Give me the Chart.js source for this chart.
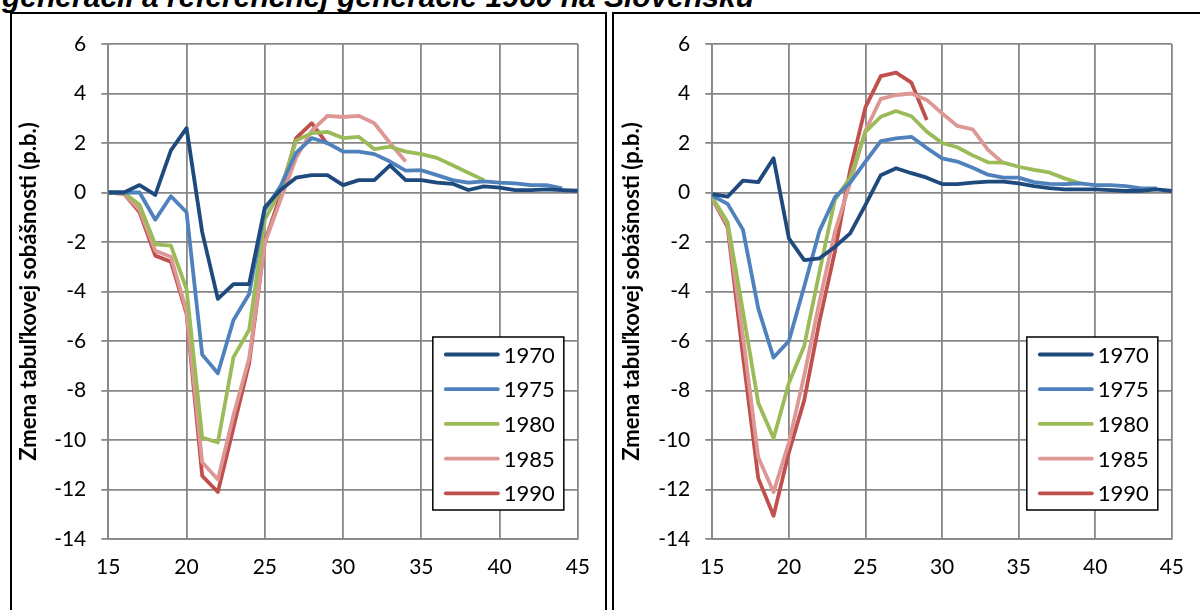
<!DOCTYPE html>
<html>
<head>
<meta charset="utf-8">
<script src="https://cdn.jsdelivr.net/npm/chart.js@4.4.0/dist/chart.umd.min.js"></script>
<style>
  html, body { margin: 0; padding: 0; background: #fff; }
  body { width: 1200px; height: 610px; position: relative; overflow: hidden; }
  .title {
    position: absolute; left: 2px; top: -18px; z-index: 2;
    font: italic bold 30px "Liberation Sans", Arial, sans-serif;
    line-height: 30px; white-space: nowrap; color: #000;
  }
  .panel { position: absolute; top: 12px; height: 640px; border: 2px solid #000; box-sizing: border-box; }
  #boxLeft { left: 10px; width: 597px; }
  #boxRight { left: 612px; width: 620px; }
  canvas { position: absolute; }
  #chartLeft { left: 12px; top: 14px; }
  #chartRight { left: 615px; top: 14px; }
</style>
</head>
<body>
<div class="title">generácii a referenčnej generácie 1960 na Slovensku</div>
<div class="panel" id="boxLeft"></div>
<div class="panel" id="boxRight"></div>
<canvas id="chartLeft" width="594" height="596"></canvas>
<canvas id="chartRight" width="585" height="596"></canvas>

<script>
// vek 15..45
const ages = [15,16,17,18,19,20,21,22,23,24,25,26,27,28,29,30,31,32,33,34,35,36,37,38,39,40,41,42,43,44,45];
const cohorts = ['1970', '1975', '1980', '1985', '1990'];
const colors = ['#1f4a7e', '#4f81bd', '#9bbb59', '#dd9896', '#c0504d'];
const yTitle = 'Zmena tabuľkovej sobášnosti (p.b.)';

// left panel (values from age 15 on)
const left1970 = [0,0,0.3,-0.1,1.7,2.6,-1.6,-4.3,-3.7,-3.7,-0.6,0.1,0.6,0.7,0.7,0.3,0.5,0.5,1.1,0.5,0.5,0.4,0.35,0.1,0.25,0.2,0.1,0.1,0.13,0.1,0.07];
const left1975 = [0,0,0,-1.1,-0.15,-0.8,-6.55,-7.3,-5.15,-4.1,-0.7,0.25,1.6,2.2,2.0,1.65,1.65,1.55,1.25,0.88,0.9,0.7,0.5,0.4,0.45,0.4,0.37,0.3,0.3,0.17];
const left1980 = [0,0,-0.5,-2.1,-2.15,-3.9,-9.9,-10.1,-6.65,-5.55,-1.1,0.1,2.1,2.4,2.45,2.2,2.25,1.75,1.85,1.65,1.55,1.4,1.1,0.8,0.5];
const left1985 = [0,-0.05,-0.7,-2.35,-2.6,-4.8,-10.9,-11.6,-9.0,-6.7,-2.05,-0.3,1.4,2.5,3.1,3.05,3.1,2.8,2.0,1.25];
const left1990 = [0,-0.05,-0.8,-2.55,-2.8,-4.9,-11.45,-12.1,-9.5,-6.9,-2.0,-0.1,2.2,2.8,1.95];

// right panel
const right1970 = [-0.07,-0.17,0.48,0.42,1.38,-1.85,-2.73,-2.66,-2.2,-1.65,-0.5,0.7,0.98,0.78,0.6,0.34,0.34,0.4,0.44,0.44,0.37,0.26,0.18,0.13,0.13,0.13,0.1,0.06,0.07,0.13,0.06];
const right1975 = [-0.13,-0.46,-1.5,-4.68,-6.67,-6.0,-3.8,-1.55,-0.2,0.4,1.25,2.08,2.19,2.25,1.8,1.38,1.25,1.0,0.72,0.6,0.6,0.42,0.35,0.34,0.37,0.3,0.3,0.26,0.17,0.17];
const right1980 = [-0.2,-1.2,-4.8,-8.5,-9.93,-7.7,-6.2,-3.2,-0.3,0.6,2.45,3.06,3.29,3.08,2.46,2.0,1.83,1.5,1.22,1.21,1.04,0.91,0.81,0.57,0.37];
const right1985 = [-0.25,-1.3,-5.8,-10.7,-12.1,-10.1,-7.4,-4.4,-1.6,0.4,2.5,3.78,3.94,4.0,3.74,3.2,2.69,2.55,1.72,1.18];
const right1990 = [-0.25,-1.4,-6.6,-11.55,-13.06,-10.5,-8.4,-5.2,-2.4,0.9,3.45,4.7,4.84,4.44,2.93];

const GRID = '#878787';

// legend box inside the plot, like the excel one
const boxLegend = {
  id: 'boxLegend',
  afterDraw(chart) {
    const {ctx, chartArea} = chart;
    const w = 131, h = 173;
    const x0 = chartArea.right - 14 - w;
    const y0 = chartArea.bottom - 29 - h;
    ctx.save();
    ctx.fillStyle = '#fff';
    ctx.fillRect(x0, y0, w, h);
    ctx.strokeStyle = '#000';
    ctx.lineWidth = 1.5;
    ctx.strokeRect(x0, y0, w, h);
    chart.data.datasets.forEach((ds, i) => {
      const y = y0 + 17.5 + i * 34.7;
      ctx.strokeStyle = ds.borderColor;
      ctx.lineWidth = 3.8;
      ctx.lineCap = 'round';
      ctx.beginPath();
      ctx.moveTo(x0 + 13, y);
      ctx.lineTo(x0 + 65, y);
      ctx.stroke();
      ctx.fillStyle = '#000';
      ctx.font = '22px Lato';
      ctx.textBaseline = 'middle';
      ctx.fillText(ds.label, x0 + 71, y + 1);
    });
    ctx.restore();
  }
};

function makeChart(id, series, axisWidth, padRight) {
  const datasets = series.map((vals, i) => ({
    label: cohorts[i],
    data: vals.map((v, k) => ({x: ages[k], y: v})),
    borderColor: colors[i],
    backgroundColor: colors[i],
    borderWidth: 3.8,
    pointRadius: 0,
    tension: 0,
    borderJoinStyle: 'round',
    fill: false
  }));

  return new Chart(document.getElementById(id).getContext('2d'), {
    type: 'line',
    data: {datasets},
    plugins: [boxLegend],
    options: {
      responsive: false,
      animation: false,
      devicePixelRatio: 1,
      layout: {padding: {top: 30, right: padRight, bottom: 0, left: 0}},
      plugins: {legend: {display: false}, tooltip: {enabled: false}},
      scales: {
        x: {
          type: 'linear', min: 15, max: 45,
          afterFit(scale) { scale.height = 71; },
          ticks: {stepSize: 5, padding: 16, color: '#000', font: {family: 'Lato', size: 21}, maxRotation: 0},
          grid: {color: GRID, lineWidth: 1.8, drawTicks: false},
          border: {color: GRID, width: 1.8}
        },
        y: {
          min: -14, max: 6,
          afterFit(scale) { scale.width = axisWidth; },
          ticks: {stepSize: 2, padding: 15, color: '#000', font: {family: 'Lato', size: 21}},
          grid: {color: GRID, lineWidth: 1.8, tickLength: 7},
          border: {color: GRID, width: 1.8},
          title: {
            display: true, text: yTitle, color: '#000',
            font: {family: 'Lato', size: 22, weight: 'bold'},
            padding: {top: 4, bottom: 0}
          }
        }
      }
    }
  });
}

makeChart('chartLeft', [left1970, left1975, left1980, left1985, left1990], 96.3, 27.3);
makeChart('chartRight', [right1970, right1975, right1980, right1985, right1990], 97.3, 17.3);
</script>
</body>
</html>
